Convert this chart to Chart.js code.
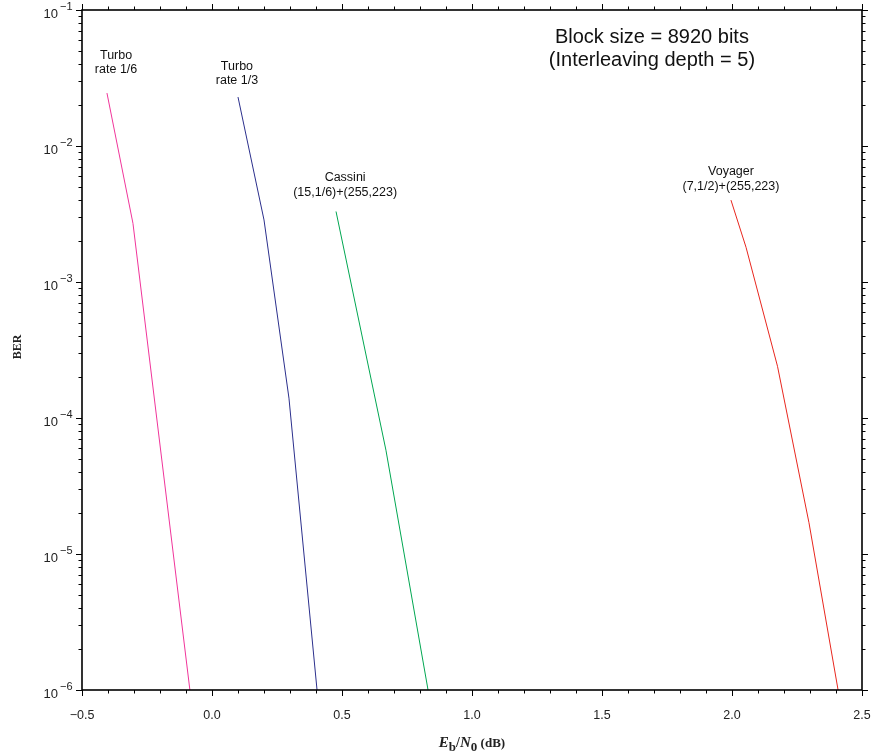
<!DOCTYPE html>
<html>
<head>
<meta charset="utf-8">
<script src="https://cdn.jsdelivr.net/npm/chart.js@4/dist/chart.umd.min.js"></script>
<style>
  html, body { margin: 0; padding: 0; background: #fff; }
  #wrap { width: 874px; height: 756px; position: relative; }
</style>
</head>
<body>
<div id="wrap"><canvas id="chart"></canvas></div>
<script>
// values (Eb/N0 in dB, BER)
var turbo16X = [-0.404, -0.304, -0.085];
var turbo16Y = [2.45e-2, 2.7e-3, 1e-6];
var turbo13X = [0.100, 0.200, 0.296, 0.404];
var turbo13Y = [2.29e-2, 2.86e-3, 1.4e-4, 1e-6];
var cassiniX = [0.477, 0.669, 0.831];
var cassiniY = [3.3e-3, 5.8e-5, 1e-6];
var voyagerX = [1.996, 2.054, 2.175, 2.296, 2.408];
var voyagerY = [4.0e-3, 1.8e-3, 2.4e-4, 1.7e-5, 1e-6];

var xTickValues = [-0.5, 0.0, 0.5, 1.0, 1.5, 2.0, 2.5];
var yDecades = [-6, -5, -4, -3, -2, -1];

// text notes, placed in data coordinates
var notes = [
  { x: -0.369, y: 0.0459, lines: ["Turbo", "rate 1/6"], size: 12.5, gap: 14 },
  { x: 0.096, y: 0.0387, lines: ["Turbo", "rate 1/3"], size: 12.5, gap: 14 },
  { x: 0.512, y: 5.91e-3, lines: ["Cassini", "(15,1/6)+(255,223)"], size: 12.5, gap: 15 },
  { x: 1.996, y: 6.44e-3, lines: ["Voyager", "(7,1/2)+(255,223)"], size: 12.5, gap: 15 },
  { x: 1.692, y: 0.0633, lines: ["Block size = 8920 bits", "(Interleaving depth = 5)"], size: 20, gap: 23 }
];

function pts(xs, ys) {
  return xs.map(function(x, i) { return { x: x, y: ys[i] }; });
}

function series(label, xs, ys, color) {
  return {
    label: label,
    data: pts(xs, ys),
    borderColor: color,
    backgroundColor: color,
    borderWidth: 1,
    pointRadius: 0,
    tension: 0,
    fill: false
  };
}

var frame = {
  id: "frame",
  afterDraw: function(chart) {
    var ctx = chart.ctx;
    var a = chart.chartArea;
    var xs = chart.scales.x, ys = chart.scales.y;
    ctx.save();
    ctx.strokeStyle = "#000";
    ctx.lineWidth = 1;

    // x ticks every 0.1, long every 0.5
    for (var i = 0; i <= 30; i++) {
      var v = -0.5 + i * 0.1;
      var px = Math.round(xs.getPixelForValue(v)) + 0.5;
      var len = (i % 5 === 0) ? 6 : 3.5;
      ctx.beginPath();
      ctx.moveTo(px, a.bottom); ctx.lineTo(px, a.bottom + len);
      ctx.moveTo(px, a.top); ctx.lineTo(px, a.top - len);
      ctx.stroke();
    }

    // y ticks at k * 10^n
    yDecades.forEach(function(n) {
      for (var k = 1; k <= 9; k++) {
        if (n === -1 && k > 1) break;
        var py = Math.round(ys.getPixelForValue(k * Math.pow(10, n))) + 0.5;
        var len = (k === 1) ? 6 : 3.5;
        ctx.beginPath();
        ctx.moveTo(a.left, py); ctx.lineTo(a.left - len, py);
        ctx.moveTo(a.right, py); ctx.lineTo(a.right + len, py);
        ctx.stroke();
      }
    });

    // frame
    ctx.lineWidth = 1.6;
    ctx.strokeRect(a.left, a.top, a.right - a.left, a.bottom - a.top);

    // y labels 10^n
    ctx.fillStyle = "#222";
    yDecades.forEach(function(n) {
      var py = ys.getPixelForValue(Math.pow(10, n));
      ctx.font = "13px 'Liberation Sans', Arial, sans-serif";
      ctx.textAlign = "right";
      ctx.textBaseline = "middle";
      ctx.fillText("10", 58, py + 4);
      ctx.font = "11px 'Liberation Sans', Arial, sans-serif";
      ctx.textAlign = "left";
      ctx.fillText("\u2212" + Math.abs(n), 60, py - 3);
    });

    // y title
    ctx.save();
    ctx.translate(18, 347);
    ctx.rotate(-Math.PI / 2);
    ctx.font = "bold 12px 'Liberation Serif', 'Times New Roman', serif";
    ctx.textAlign = "center";
    ctx.textBaseline = "middle";
    ctx.fillStyle = "#222";
    ctx.fillText("BER", 0, 0);
    ctx.restore();

    // x title: Eb/N0 (dB)
    var parts = [
      { t: "E", f: "italic bold 15px 'Liberation Serif', serif", dy: 0 },
      { t: "b", f: "bold 13px 'Liberation Serif', serif", dy: 4 },
      { t: "/", f: "bold 14px 'Liberation Serif', serif", dy: 0 },
      { t: "N", f: "italic bold 15px 'Liberation Serif', serif", dy: 0 },
      { t: "0", f: "bold 13px 'Liberation Serif', serif", dy: 4 },
      { t: " (dB)", f: "bold 13px 'Liberation Serif', serif", dy: 0 }
    ];
    var total = 0;
    parts.forEach(function(p) { ctx.font = p.f; p.w = ctx.measureText(p.t).width; total += p.w; });
    var cx = (a.left + a.right) / 2 - total / 2;
    ctx.textAlign = "left";
    ctx.textBaseline = "alphabetic";
    parts.forEach(function(p) {
      ctx.font = p.f;
      ctx.fillText(p.t, cx, 747 + p.dy);
      cx += p.w;
    });

    // notes
    ctx.textAlign = "center";
    ctx.textBaseline = "middle";
    ctx.fillStyle = "#111";
    notes.forEach(function(nt) {
      var nx = xs.getPixelForValue(nt.x);
      var ny = ys.getPixelForValue(nt.y);
      ctx.font = nt.size + "px 'Liberation Sans', Arial, sans-serif";
      nt.lines.forEach(function(line, j) {
        ctx.fillText(line, nx, ny + j * nt.gap);
      });
    });
    ctx.restore();
  }
};

new Chart(document.getElementById("chart").getContext("2d"), {
  type: "line",
  data: {
    datasets: [
      series("Turbo rate 1/6", turbo16X, turbo16Y, "#f0359a"),
      series("Turbo rate 1/3", turbo13X, turbo13Y, "#2b2f8c"),
      series("Cassini", cassiniX, cassiniY, "#00a651"),
      series("Voyager", voyagerX, voyagerY, "#e8261e")
    ]
  },
  options: {
    responsive: true,
    maintainAspectRatio: false,
    animation: false,
    layout: { padding: { top: 10, right: 12, left: 0, bottom: 0 } },
    plugins: { legend: { display: false }, tooltip: { enabled: false } },
    scales: {
      x: {
        type: "linear",
        min: -0.5,
        max: 2.5,
        afterBuildTicks: function(scale) {
          scale.ticks = xTickValues.map(function(v) { return { value: v }; });
        },
        ticks: {
          autoSkip: false,
          maxRotation: 0,
          padding: 10,
          color: "#222",
          font: { family: "'Liberation Sans', Arial, sans-serif", size: 12.5 },
          callback: function(v) { return Number(v).toFixed(1).replace("-", "\u2212"); }
        },
        grid: { display: false },
        border: { display: false },
        afterFit: function(scale) {
          scale.height = 66;
          scale.paddingLeft = 0;
          scale.paddingRight = 0;
        }
      },
      y: {
        type: "logarithmic",
        min: 1e-6,
        max: 1e-1,
        ticks: { display: false },
        grid: { display: false },
        border: { display: false },
        afterFit: function(scale) { scale.width = 82; }
      }
    }
  },
  plugins: [frame]
});
</script>
</body>
</html>
